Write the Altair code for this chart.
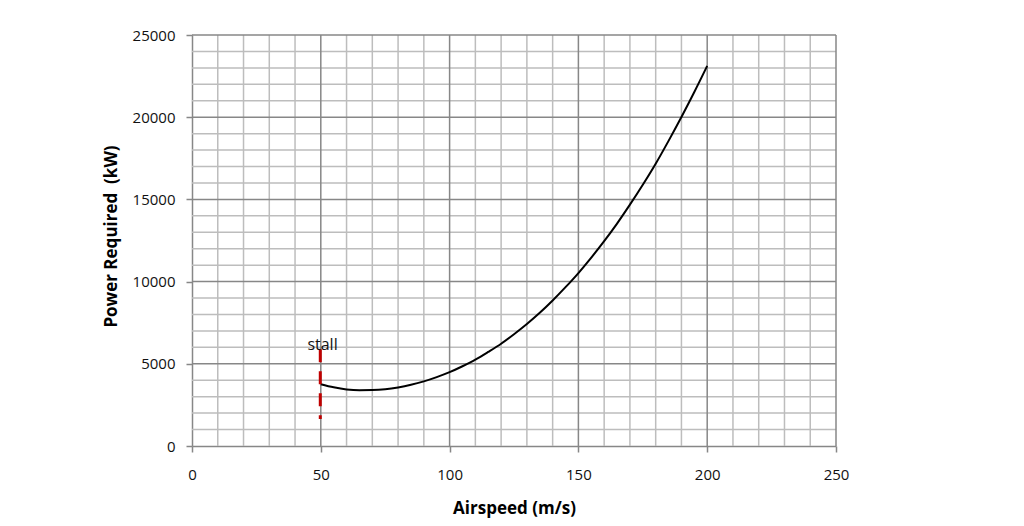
import altair as alt
import pandas as pd

# Curve
airspeed = [50, 55, 60, 65, 70, 75, 80, 85, 90, 95, 100, 105, 110, 115, 120, 125,
            130, 135, 140, 145, 150, 155, 160, 165, 170, 175, 180, 185, 190, 195, 200]
power = [3760, 3570, 3440, 3390, 3400, 3450, 3560, 3720, 3930, 4190, 4490, 4850,
         5250, 5720, 6220, 6800, 7420, 8100, 8850, 9660, 10520, 11460, 12460, 13530,
         14680, 15890, 17170, 18560, 20010, 21530, 23120]

# Stall marker
stall_speed = [49.8, 49.8]
stall_power = [5880, 1640]
stall_label = ["stall"]
stall_label_x = [44.8]
stall_label_y = [5840]

# Axis ticks / grid
x_major = [0, 50, 100, 150, 200, 250]
y_major = [0, 5000, 10000, 15000, 20000, 25000]
x_minor = [v for v in range(10, 250, 10) if v % 50 != 0]
y_minor = [v for v in range(1000, 25000, 1000) if v % 5000 != 0]

XMIN, XMAX, YMIN, YMAX = 0, 250, 0, 25000
FONT = "Open Sans"
MINOR_C = "#BDBDBD"
MAJOR_C = "#878787"

xs = alt.Scale(domain=[XMIN, XMAX], nice=False, zero=False)
ys = alt.Scale(domain=[YMIN, YMAX], nice=False, zero=False)

x_axis = alt.Axis(values=x_major, format="d", grid=False, labelFlush=False,
                  domainColor=MAJOR_C, domainWidth=1.5,
                  tickColor=MAJOR_C, tickWidth=1.5, tickSize=6, labelPadding=15,
                  labelFont=FONT, labelFontSize=15, labelColor="#111111",
                  title="Airspeed (m/s)", titleFont=FONT, titleFontSize=17,
                  titleFontWeight="bold", titleColor="#000000", titleBaseline="alphabetic",
                  titleY=67)
y_axis = alt.Axis(values=y_major, format="d", grid=False, labelFlush=False,
                  domainColor=MAJOR_C, domainWidth=1.5,
                  tickColor=MAJOR_C, tickWidth=1.5, tickSize=6, labelPadding=11,
                  labelFont=FONT, labelFontSize=15, labelColor="#111111",
                  title="Power Required\u00a0 (kW)", titleFont=FONT, titleFontSize=17,
                  titleFontWeight="bold", titleColor="#000000", titleBaseline="alphabetic",
                  titleX=-76, titleY=201)


def X(field):
    return alt.X(field, scale=xs, axis=x_axis)


def Y(field):
    return alt.Y(field, scale=ys, axis=y_axis)


minor_v = alt.Chart(pd.DataFrame({"x": x_minor})).mark_rule(color=MINOR_C, strokeWidth=1.5).encode(
    x=X("x:Q"))
minor_h = alt.Chart(pd.DataFrame({"y": y_minor})).mark_rule(color=MINOR_C, strokeWidth=1.5).encode(
    y=Y("y:Q"))
major_v = alt.Chart(pd.DataFrame({"x": x_major[1:]})).mark_rule(color=MAJOR_C, strokeWidth=1.5).encode(
    x=X("x:Q"))
major_h = alt.Chart(pd.DataFrame({"y": y_major[1:]})).mark_rule(color=MAJOR_C, strokeWidth=1.5).encode(
    y=Y("y:Q"))

curve_df = pd.DataFrame({"airspeed": airspeed, "power": power})
curve = alt.Chart(curve_df).mark_line(color="#000000", strokeWidth=2, interpolate="monotone",
                                      strokeJoin="round").encode(
    x=X("airspeed:Q"),
    y=Y("power:Q"),
)

stall_df = pd.DataFrame({"x": stall_speed, "y": stall_power, "o": [0, 1]})
stall = alt.Chart(stall_df).mark_line(color="#C00000", strokeWidth=3, strokeDash=[13, 9]).encode(
    x=X("x:Q"), y=Y("y:Q"), order="o:Q")

label_df = pd.DataFrame({"x": stall_label_x, "y": stall_label_y, "t": stall_label})
label = alt.Chart(label_df).mark_text(align="left", baseline="alphabetic", font=FONT,
                                      fontSize=16, color="#111111").encode(
    x=X("x:Q"), y=Y("y:Q"), text="t:N")

chart = alt.layer(minor_v, minor_h, major_v, major_h, curve, stall, label).properties(
    width=644, height=411,
    autosize=alt.AutoSizeParams(type="none"),
    padding={"left": 192, "top": 35, "right": 188, "bottom": 80},
    background="white",
).configure_view(strokeWidth=0)

chart.save("out.html", embed_options={"renderer": "svg", "actions": False})
